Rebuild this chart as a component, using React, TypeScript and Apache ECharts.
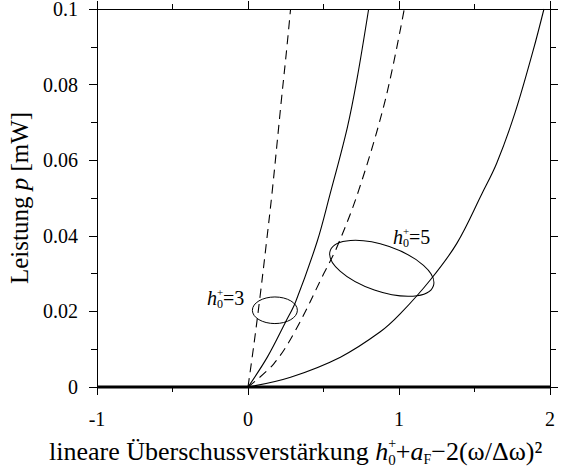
import React, { useEffect, useRef } from "react";
import * as echarts from "echarts";

// Axis tick labels
const xTickLabels = ["-1", "0", "1", "2"];
const yTickLabels = ["0", "0.02", "0.04", "0.06", "0.08", "0.1"];

// Trivial solution p = 0 over the whole gain range
const zeroSolution = [[-1, 0], [2, 0]];

// Output power p [mW] versus linear excess gain, h0+ = 3
const h3Approx = [
  [0, 0], [0.04, 0.0115], [0.08, 0.024], [0.12, 0.0375], [0.161, 0.052],
  [0.22, 0.0755], [0.254, 0.0885], [0.282, 0.1],
];
const h3Exact = [
  [0, 0], [0.128, 0.0079], [0.249, 0.0172], [0.315, 0.0225], [0.458, 0.0385],
  [0.54, 0.0505], [0.657, 0.0685], [0.722, 0.0815], [0.799, 0.1],
];

// Output power p [mW] versus linear excess gain, h0+ = 5
const h5Approx = [
  [0, 0], [0.172, 0.0062], [0.315, 0.015], [0.502, 0.03], [0.59, 0.0371],
  [0.733, 0.052], [0.909, 0.0759], [1.035, 0.1],
];
const h5Exact = [
  [0, 0], [0.282, 0.0026], [0.612, 0.0079], [0.876, 0.0146], [1.009, 0.0194],
  [1.207, 0.0283], [1.383, 0.038], [1.55, 0.0512], [1.647, 0.0592],
  [1.768, 0.0725], [1.889, 0.0891], [1.96, 0.1],
];

// Centres of the ellipses grouping each pair of curves
const h3Marker = [[0.178, 0.0203]];
const h5Marker = [[0.886, 0.0314]];

const SERIF = "Liberation Serif, Times New Roman, serif";

type Run = { t: string; size: number; italic?: boolean; dy?: number; stack?: boolean };

let measureCtx: CanvasRenderingContext2D | null = null;
function textWidth(r: Run) {
  if (!measureCtx) measureCtx = document.createElement("canvas").getContext("2d");
  measureCtx!.font = `${r.italic ? "italic " : ""}${r.size}px "Liberation Serif"`;
  return measureCtx!.measureText(r.t).width;
}

// Lays out a run of text pieces (with stacked sub/superscripts) from a baseline
function textRuns(x0: number, baseline: number, runs: Run[]) {
  let x = x0;
  return runs.map((r) => {
    const el = {
      type: "text",
      x,
      y: baseline + (r.dy || 0) - 0.3375 * r.size,
      silent: true,
      style: {
        text: r.t,
        fontFamily: SERIF,
        fontSize: r.size,
        fontStyle: r.italic ? "italic" : "normal",
        fill: "#000",
        align: "left",
        verticalAlign: "middle",
      },
    };
    if (!r.stack) x += textWidth(r);
    return el;
  });
}

function ellipseSeries(data: number[][], rx: number, ry: number, rotation: number) {
  return {
    type: "custom",
    data,
    silent: true,
    renderItem: (_params: any, api: any) => {
      const c = api.coord([api.value(0), api.value(1)]);
      return {
        type: "ellipse",
        x: c[0],
        y: c[1],
        rotation,
        shape: { cx: 0, cy: 0, rx, ry },
        style: { fill: "none", stroke: "#000", lineWidth: 1 },
      };
    },
  };
}

function curve(data: number[][], dashed: boolean) {
  return {
    type: "line",
    data,
    smooth: 0.35,
    showSymbol: false,
    silent: true,
    lineStyle: { color: "#000", width: 1.1, type: dashed ? [9, 6] : "solid" },
  };
}

export default function App() {
  const ref = useRef<HTMLDivElement>(null);

  useEffect(() => {
    if (!ref.current) return;
    const chart = echarts.init(ref.current, null, { renderer: "svg" });

    const tickFont = { fontFamily: SERIF, fontSize: 20, color: "#000" };
    const axisLine = { show: true, onZero: false, lineStyle: { color: "#000", width: 1 } };

    const baseX = {
      type: "value",
      min: -1,
      max: 2,
      interval: 1,
      axisLine,
      splitLine: { show: false },
      axisTick: { show: true, inside: false, length: 8, lineStyle: { color: "#000" } },
      minorTick: { show: true, splitNumber: 2, length: 5, lineStyle: { color: "#000" } },
    };
    const baseY = {
      type: "value",
      min: 0,
      max: 0.1,
      interval: 0.02,
      axisLine,
      splitLine: { show: false },
      axisTick: { show: true, inside: false, length: 8, lineStyle: { color: "#000" } },
      minorTick: { show: true, splitNumber: 2, length: 6, lineStyle: { color: "#000" } },
    };

    const option: any = {
      animation: false,
      backgroundColor: "#fff",
      grid: {
        left: 97,
        right: 12,
        top: 9,
        bottom: 89,
        containLabel: false,
        outerBoundsMode: "none",
      },
      xAxis: [
        {
          ...baseX,
          position: "bottom",
          axisLabel: {
            ...tickFont,
            margin: 22,
            formatter: (v: number) => xTickLabels[Math.round(v + 1)] ?? "",
          },
        },
        { ...baseX, position: "top", axisLabel: { show: false } },
      ],
      yAxis: [
        {
          ...baseY,
          position: "left",
          name: "Leistung {i|p} [mW]",
          nameLocation: "middle",
          nameGap: 61,
          nameRotate: 90,
          nameTextStyle: {
            fontFamily: SERIF,
            fontSize: 25,
            color: "#000",
            rich: { i: { fontFamily: SERIF, fontSize: 25, fontStyle: "italic", color: "#000" } },
          },
          axisLabel: {
            ...tickFont,
            margin: 19,
            padding: [4, 0, 0, 0],
            formatter: (v: number) => yTickLabels[Math.round(v / 0.02)] ?? "",
          },
        },
        { ...baseY, position: "right", axisLabel: { show: false } },
      ],
      series: [
        {
          type: "line",
          data: zeroSolution,
          showSymbol: false,
          silent: true,
          clip: false,
          lineStyle: { color: "#000", width: 3.2 },
        },
        curve(h3Approx, true),
        curve(h3Exact, false),
        curve(h5Approx, true),
        curve(h5Exact, false),
        ellipseSeries(h3Marker, 22.5, 13.3, 0),
        ellipseSeries(h5Marker, 54.5, 23, -0.33),
      ],
      graphic: [
        ...textRuns(207, 305, [
          { t: "h", size: 20, italic: true },
          { t: "+", size: 11, dy: -9, stack: true },
          { t: "0", size: 12, dy: 3 },
          { t: "=3", size: 20 },
        ]),
        ...textRuns(393, 244, [
          { t: "h", size: 20, italic: true },
          { t: "+", size: 11, dy: -9, stack: true },
          { t: "0", size: 12, dy: 3 },
          { t: "=5", size: 20 },
        ]),
        ...textRuns(49, 460, [
          { t: "lineare Überschussverstärkung ", size: 26 },
          { t: "h", size: 26, italic: true },
          { t: "+", size: 14, dy: -12, stack: true },
          { t: "0", size: 15, dy: 5 },
          { t: "+", size: 26 },
          { t: "a", size: 26, italic: true },
          { t: "F", size: 14, dy: 4 },
          { t: "\u22122(\u03c9/\u0394\u03c9)\u00b2", size: 26 },
        ]),
      ],
    };

    chart.setOption(option);
    return () => chart.dispose();
  }, []);

  return (
    <div
      ref={ref}
      style={{ position: "absolute", left: 0, top: 0, width: 562, height: 476, background: "#fff" }}
    />
  );
}
